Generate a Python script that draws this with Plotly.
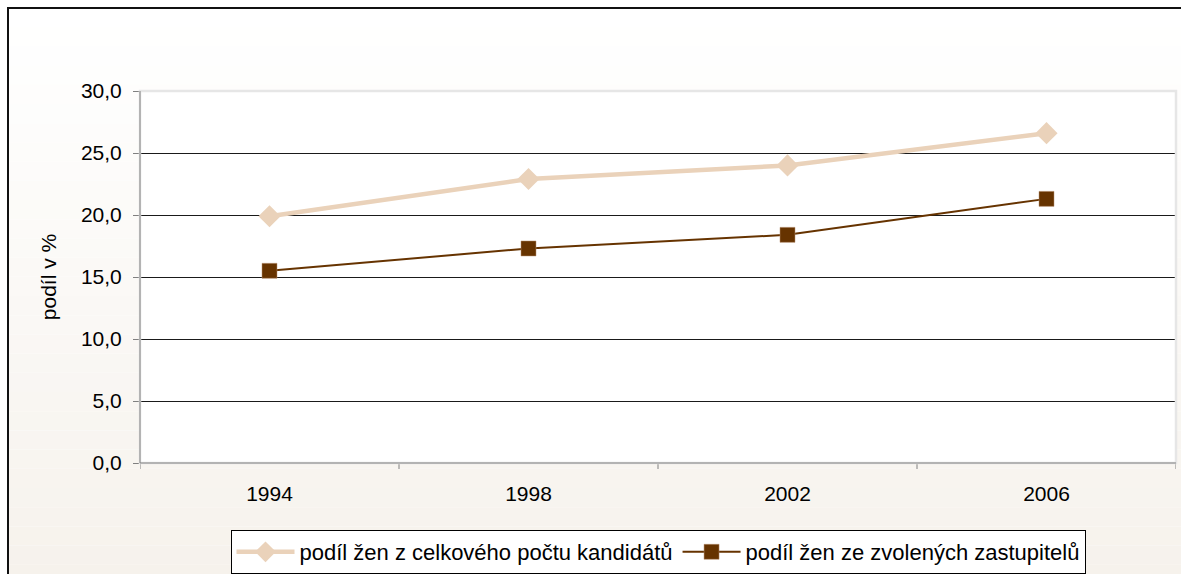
import plotly.graph_objects as go

years = ["1994", "1998", "2002", "2006"]
kandidati = [19.9, 22.9, 24.0, 26.6]
zastupitele = [15.5, 17.3, 18.4, 21.3]
y_ticks = [0, 5, 10, 15, 20, 25, 30]
y_tick_labels = ["0,0", "5,0", "10,0", "15,0", "20,0", "25,0", "30,0"]

name1 = "podíl žen z celkového počtu kandidátů"
name2 = "podíl žen ze zvolených zastupitelů"
FONT = "Liberation Sans, Arial, sans-serif"
FS = 21

W, H = 1181, 574
L, R, T, B = 140, 5, 91, 111
PW, PH = W - L - R, H - T - B


def px_x(p):
    return (p - L) / PW


def px_y(p):
    return (H - B - p) / PH


fig = go.Figure()
fig.add_trace(go.Scatter(
    x=years, y=kandidati, mode="lines+markers", name=name1,
    line=dict(color="#EAD2BA", width=4.5),
    marker=dict(symbol="diamond", size=17, color="#EAD2BA"),
))
fig.add_trace(go.Scatter(
    x=years, y=zastupitele, mode="lines+markers", name=name2,
    line=dict(color="#663300", width=2),
    marker=dict(symbol="square", size=15, color="#663300",
                line=dict(color="#B89070", width=0.5)),
))

fig.update_layout(
    width=W, height=H,
    margin=dict(l=L, r=R, t=T, b=B, autoexpand=False),
    paper_bgcolor="#FFFFFF",
    plot_bgcolor="#FFFFFF",
    font=dict(family=FONT, size=FS, color="#000000"),
    showlegend=True,
    legend=dict(
        orientation="h", x=0.5, xanchor="center", y=px_y(530), yanchor="top",
        bgcolor="#FFFFFF", bordercolor="#000000", borderwidth=1,
        font=dict(family=FONT, size=22, color="#000000"),
        itemwidth=58, tracegroupgap=0,
    ),
    xaxis=dict(
        type="category", range=[-0.5, 3.5],
        showgrid=False, showline=True, linecolor="#808080", linewidth=1,
        ticks="", tickfont=dict(size=FS), ticklabelstandoff=12,
        zeroline=False,
    ),
    yaxis=dict(
        range=[0, 30], tickvals=y_ticks, ticktext=y_tick_labels,
        showgrid=True, gridcolor="#1A1A1A", gridwidth=1,
        showline=True, linecolor="#808080", linewidth=1,
        ticks="outside", ticklen=6, tickcolor="#808080",
        tickfont=dict(size=FS), zeroline=False, ticklabelstandoff=7,
        title=dict(text="podíl v %", font=dict(size=FS), standoff=18),
    ),
)

# background gradient inside the outer chart frame (white -> warm beige)
bands = 30
top_px, bot_px = 8, H + 10
c0 = (255, 255, 255)
c1 = (246, 242, 236)
for i in range(bands):
    y0p = top_px + (bot_px - top_px) * i / bands
    y1p = top_px + (bot_px - top_px) * (i + 1) / bands
    t = i / (bands - 1)
    col = tuple(round(a + (b - a) * t) for a, b in zip(c0, c1))
    fig.add_shape(type="rect", xref="paper", yref="paper",
                  x0=px_x(8), x1=px_x(W + 10), y0=px_y(y1p), y1=px_y(y0p),
                  line=dict(width=0), fillcolor="rgb(%d,%d,%d)" % col,
                  layer="below")
# white plot area on top of the gradient
fig.add_shape(type="rect", xref="paper", yref="paper", x0=0, x1=1, y0=0, y1=1,
              line=dict(width=0), fillcolor="#FFFFFF", layer="below")

# category separator ticks on the x axis
for i in range(len(years) + 1):
    fig.add_shape(type="line", xref="x", yref="paper",
                  x0=i - 0.5, x1=i - 0.5, y0=0, y1=px_y(H - B + 6),
                  line=dict(color="#808080", width=1))

# plot-area border (light gray), covers top gridline like the original
fig.add_shape(type="rect", xref="paper", yref="paper", x0=0, x1=1, y0=0, y1=1,
              line=dict(color="#E6E6E6", width=2.5), layer="above")
fig.add_shape(type="line", xref="paper", yref="paper", x0=0, x1=1, y0=0, y1=0,
              line=dict(color="#808080", width=1), layer="above")
fig.add_shape(type="line", xref="paper", yref="paper", x0=0, x1=0, y0=0, y1=1,
              line=dict(color="#808080", width=1), layer="above")

# outer chart border (black)
fig.add_shape(type="rect", xref="paper", yref="paper",
              x0=px_x(8), x1=px_x(W + 20), y0=px_y(H + 20), y1=px_y(8),
              line=dict(color="#111111", width=2), layer="above")

fig.write_html("out.html",
               config={"displayModeBar": False},
               post_script="document.body.style.margin='0px';")
